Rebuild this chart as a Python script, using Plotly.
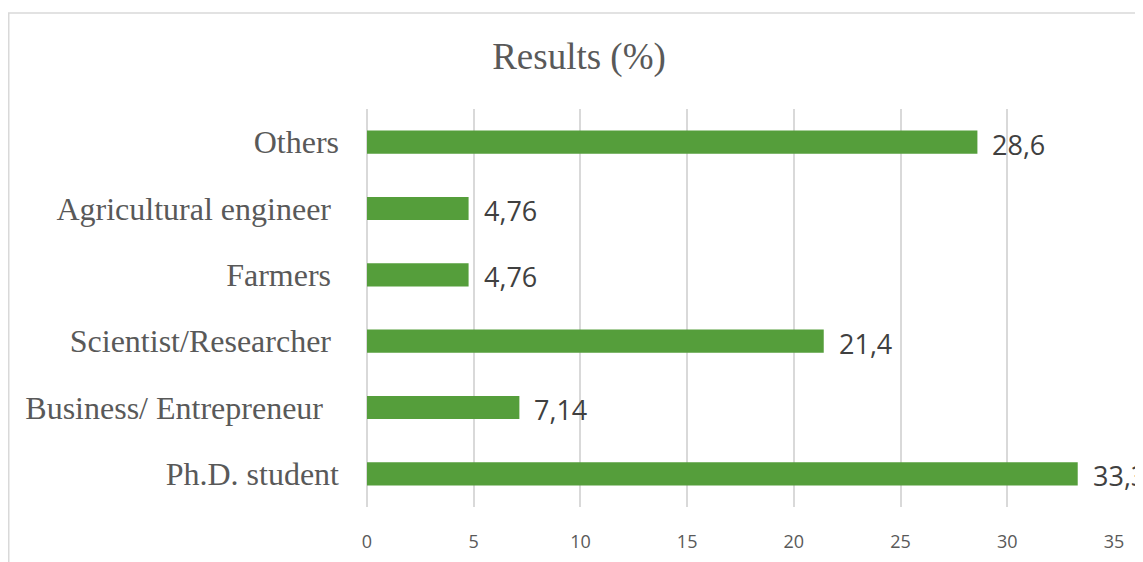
import plotly.graph_objects as go

# Data (bottom to top, as drawn)
categories = ["Ph.D. student", "Business/ Entrepreneur", "Scientist/Researcher",
              "Farmers", "Agricultural engineer", "Others"]
tick_labels = ["Ph.D. student", "Business/ Entrepreneur\u00a0\u00a0", "Scientist/Researcher\u00a0",
               "Farmers\u00a0", "Agricultural engineer\u00a0", "Others"]
values = [33.3, 7.14, 21.4, 4.76, 4.76, 28.6]
value_labels = ["33,3", "7,14", "21,4", "4,76", "4,76", "28,6"]
x_ticks = [0, 5, 10, 15, 20, 25, 30, 35]

# page body has an 8px margin: figure sized to fill the rest of the window
W, H = 1135, 554
L, R, T, B = 359, 29, 101, 55
PW, PH = W - L - R, H - T - B

fig = go.Figure()
fig.add_trace(go.Bar(
    y=categories, x=values, orientation="h",
    marker=dict(color="#559E3B", line=dict(width=0)),
    hoverinfo="skip", showlegend=False,
))

for c, v, lab in zip(categories, values, value_labels):
    fig.add_annotation(
        x=v, y=c, xref="x", yref="y", text=lab, showarrow=False,
        xanchor="left", yanchor="middle", xshift=13, yshift=-2,
        font=dict(family="Open Sans", size=27, color="#404040"),
    )

# chart border (cropped chart area)
fig.add_shape(type="rect", xref="paper", yref="paper",
              x0=(0.75 - L) / PW, x1=(W + 20 - L) / PW,
              y0=-(B + 20) / PH, y1=(H - 5 - B) / PH,
              line=dict(color="#D9D9D9", width=1.5), layer="below")

fig.update_layout(
    width=W, height=H,
    margin=dict(l=L, r=R, t=T, b=B, autoexpand=False),
    paper_bgcolor="white", plot_bgcolor="white",
    bargap=0.65,
    title=dict(text="Results (%)", x=571 / W, xref="container", xanchor="center",
               y=1 - 48 / H, yref="container", yanchor="middle",
               font=dict(family="Liberation Serif", size=37, color="#595959")),
    xaxis=dict(range=[0, 35], tickvals=x_ticks, ticktext=[str(t) for t in x_ticks],
               showgrid=True, gridcolor="#D9D9D9", gridwidth=1.5,
               zeroline=True, zerolinecolor="#D9D9D9", zerolinewidth=1.5,
               showline=False, ticks="", ticklabelstandoff=22,
               tickfont=dict(family="Open Sans", size=18, color="#595959"),
               fixedrange=True),
    yaxis=dict(categoryorder="array", categoryarray=categories,
               tickmode="array", tickvals=categories, ticktext=tick_labels,
               showgrid=False, showline=False, ticks="", ticklabelstandoff=27,
               tickfont=dict(family="Liberation Serif", size=32, color="#595959"),
               fixedrange=True),
)

fig.write_html("out.html", config={"displayModeBar": False})
